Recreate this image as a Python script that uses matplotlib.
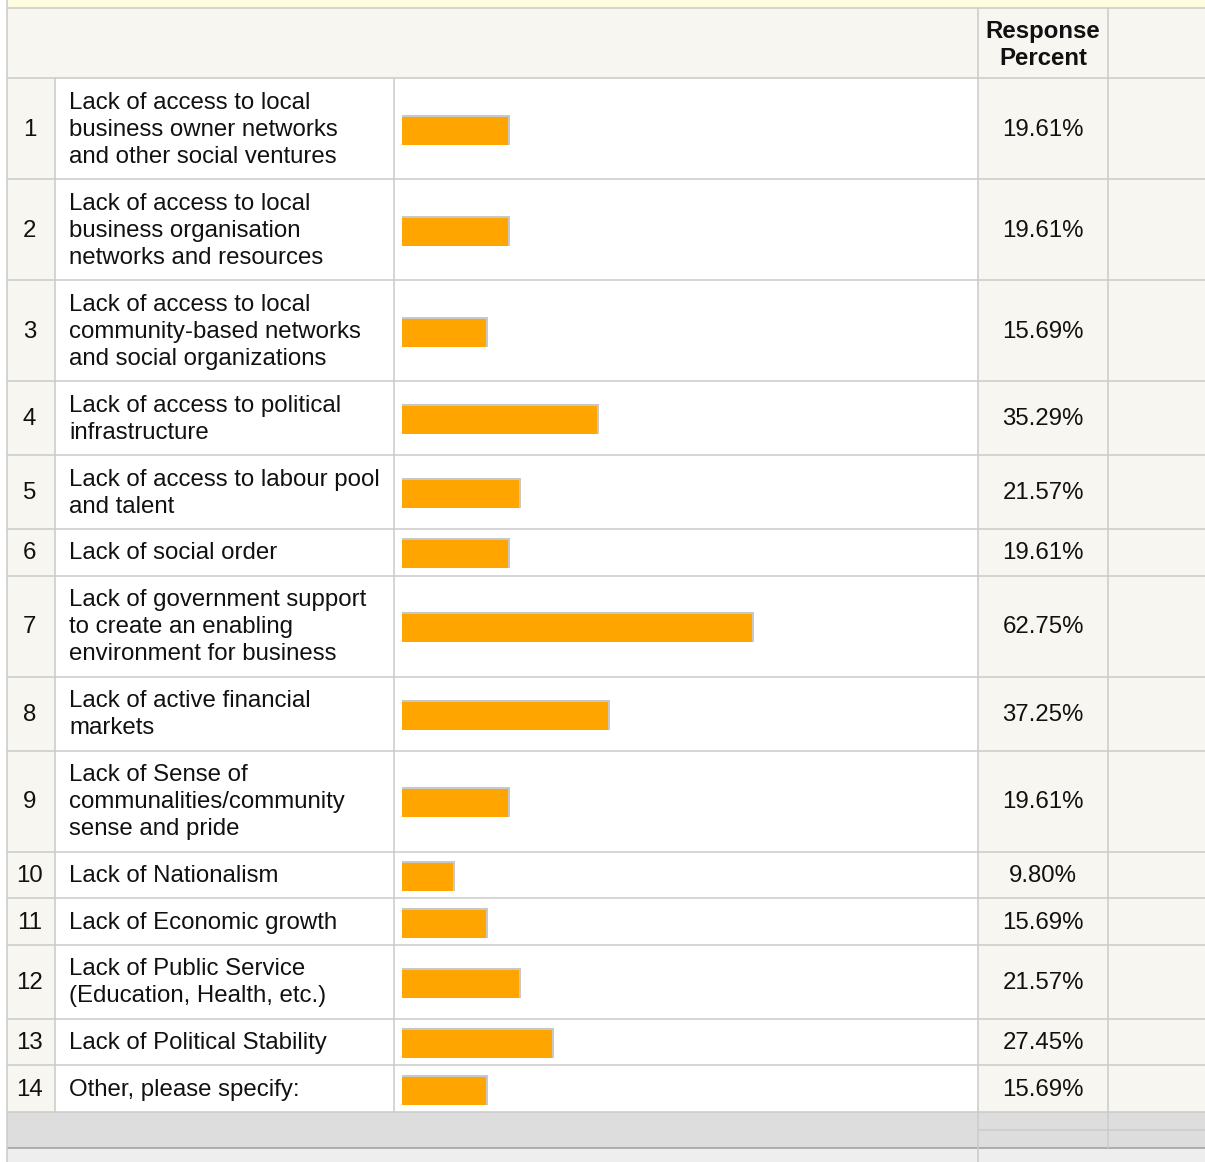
import matplotlib
matplotlib.use("Agg")
import matplotlib.pyplot as plt
from matplotlib.patches import Rectangle

# ---------------- data ----------------
numbers = [str(i) for i in range(1, 15)]
labels = [
    "Lack of access to local\nbusiness owner networks\nand other social ventures",
    "Lack of access to local\nbusiness organisation\nnetworks and resources",
    "Lack of access to local\ncommunity-based networks\nand social organizations",
    "Lack of access to political\ninfrastructure",
    "Lack of access to labour pool\nand talent",
    "Lack of social order",
    "Lack of government support\nto create an enabling\nenvironment for business",
    "Lack of active financial\nmarkets",
    "Lack of Sense of\ncommunalities/community\nsense and pride",
    "Lack of Nationalism",
    "Lack of Economic growth",
    "Lack of Public Service\n(Education, Health, etc.)",
    "Lack of Political Stability",
    "Other, please specify:",
]
values = [19.61, 19.61, 15.69, 35.29, 21.57, 19.61, 62.75, 37.25, 19.61, 9.80,
          15.69, 21.57, 27.45, 15.69]
header = "Response\nPercent"

# ---------------- layout (pixels) ----------------
W, H = 1205, 1162
DPI = 100
X_LEFT = 7
X_NUM_END = 55
X_LABEL_END = 394
X_BAR_END = 978
X_PCT_END = 1108
Y_BAND = 8
Y_HEADER_END = 78
ROW_BASE = 19.25
ROW_LINE = 27.3
PX_PER_PCT = 5.65
ZERO_PX = 399.3        # pixel where 0% falls in bar column
BAR_START_PX = 402     # visible start of the bars
FS = 17.3
LS = 1.29

CREAM = "#F7F6F0"
GRID = "#CCCCCC"
ORANGE = "#FFA500"
SHADOW = "#C8C8C8"
YELLOW = "#FFFDDF"
TXT = "#111111"

plt.rcParams['font.family'] = ['Liberation Sans', 'DejaVu Sans']

fig = plt.figure(figsize=(W / DPI, H / DPI), dpi=DPI)
fig.patch.set_facecolor("white")
ax = fig.add_axes([0, 0, 1, 1])
ax.set_xlim(0, W)
ax.set_ylim(H, 0)
ax.axis("off")

lw = 1.6 * 72 / DPI  # ~1.6 px


def rect(x0, y0, x1, y1, color, z=0):
    ax.add_patch(Rectangle((x0, y0), x1 - x0, y1 - y0, facecolor=color,
                           edgecolor="none", zorder=z))


def hline(y, x0, x1, color=GRID, z=2, w=lw):
    ax.plot([x0, x1], [y, y], color=color, lw=w, zorder=z, solid_capstyle="butt")


def vline(x, y0, y1, color=GRID, z=2, w=lw):
    ax.plot([x, x], [y0, y1], color=color, lw=w, zorder=z, solid_capstyle="butt")


# top yellow band
rect(X_LEFT, 0, W, Y_BAND, YELLOW)
# header
rect(X_LEFT, Y_BAND, W, Y_HEADER_END, CREAM)
ax.text((X_BAR_END + X_PCT_END) / 2, (Y_BAND + Y_HEADER_END) / 2 + 2, header,
        ha="center", va="center", fontsize=FS, fontweight="bold",
        linespacing=LS - 0.1, color=TXT, zorder=5)

# rows
row_tops = []
y = Y_HEADER_END
for lab in labels:
    n = lab.count("\n") + 1
    h = ROW_BASE + ROW_LINE * n
    row_tops.append((y, y + h))
    y += h
Y_ROWS_END = y

for (y0, y1), num, lab, val in zip(row_tops, numbers, labels, values):
    rect(X_LEFT, y0, X_NUM_END, y1, CREAM)
    rect(X_NUM_END, y0, X_BAR_END, y1, "white")
    rect(X_BAR_END, y0, W, y1, CREAM)
    yc = (y0 + y1) / 2
    ax.text((X_LEFT + X_NUM_END) / 2 - 1.5, yc + 1, num, ha="center",
            va="center", fontsize=FS, color=TXT, zorder=5)
    ax.text(69, yc + 1, lab, ha="left", va="center", fontsize=FS,
            linespacing=LS, color=TXT, zorder=5)
    ax.text((X_BAR_END + X_PCT_END) / 2, yc + 1, f"{val:.2f}%", ha="center",
            va="center", fontsize=FS, color=TXT, zorder=5)
    hline(y1, X_LEFT, W)

# footer
rect(X_LEFT, Y_ROWS_END, W, 1148, "#DDDDDD")
rect(X_LEFT, 1148, W, H, "#EEEEEE")
hline(1148, X_LEFT, W, color="#A0A0A0")
hline(1130, X_BAR_END, W, color=GRID)

# grid lines
hline(Y_BAND, X_LEFT, W)
hline(Y_HEADER_END, X_LEFT, W)
vline(X_LEFT, 0, H)
vline(X_BAR_END, Y_BAND, H)
vline(X_PCT_END, Y_BAND, 1148)
vline(X_NUM_END, Y_HEADER_END, Y_ROWS_END)
vline(X_LABEL_END, Y_HEADER_END, Y_ROWS_END)

# ---------------- bars in their own axes ----------------
bx0, bx1 = X_LABEL_END + 2, X_BAR_END - 2
bax = fig.add_axes([bx0 / W, 0, (bx1 - bx0) / W, 1])
bax.set_xlim((bx0 - ZERO_PX) / PX_PER_PCT, (bx1 - ZERO_PX) / PX_PER_PCT)
bax.set_ylim(H, 0)
bax.axis("off")
bax.patch.set_alpha(0)

centers = [(a + b) / 2 + 1 for a, b in row_tops]
start = (BAR_START_PX - ZERO_PX) / PX_PER_PCT
shadow_px = 2.0 / PX_PER_PCT
bax.barh(centers, [v - start for v in values], left=start, height=30,
         color=SHADOW, zorder=3)
bax.barh([c + 1 for c in centers], [v - start - shadow_px for v in values],
         left=start, height=28, color=ORANGE, zorder=4)

fig.savefig("out.png", dpi=DPI)
